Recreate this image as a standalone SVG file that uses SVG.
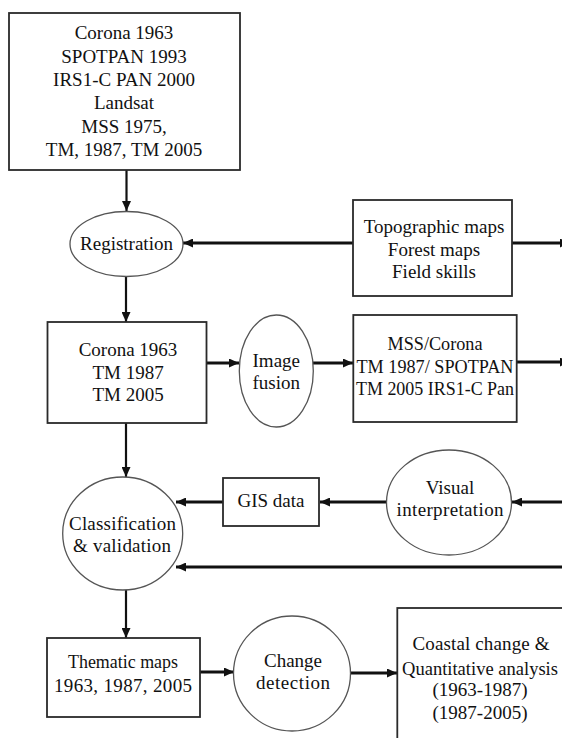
<svg xmlns="http://www.w3.org/2000/svg" width="562" height="738" viewBox="0 0 562 738">
<style>
.box{fill:#fff;stroke:#2a2a2a;stroke-width:1.8}
.ell{fill:#fff;stroke:#555;stroke-width:1.3}
text{font-family:"Liberation Serif","Times New Roman","DejaVu Serif",serif;font-size:19px;fill:#111;text-anchor:middle}
.h{stroke:#111;stroke-width:3;fill:none}
.v{stroke:#111;stroke-width:2.2;fill:none}
</style>
<defs>
<marker id="ah" markerUnits="userSpaceOnUse" markerWidth="11" markerHeight="9" refX="10" refY="4.5" orient="auto">
<path d="M0,0 L10,4.5 L0,9 z" fill="#111"/>
</marker>
</defs>
<rect width="562" height="738" fill="#fff"/>
<g id="connectors">
<line class="v" x1="126.5" y1="170" x2="126.5" y2="211" marker-end="url(#ah)"/>
<line class="h" x1="353" y1="243" x2="183" y2="243" marker-end="url(#ah)"/>
<line class="h" x1="512" y1="243" x2="570" y2="243" marker-end="url(#ah)"/>
<line class="v" x1="126" y1="276" x2="126" y2="322" marker-end="url(#ah)"/>
<line class="h" x1="207" y1="363" x2="239" y2="363" marker-end="url(#ah)"/>
<line class="h" x1="313" y1="363" x2="353" y2="363" marker-end="url(#ah)"/>
<line class="h" x1="517" y1="362" x2="570" y2="362" marker-end="url(#ah)"/>
<line class="v" x1="126" y1="423" x2="126" y2="477" marker-end="url(#ah)"/>
<line class="h" x1="562" y1="502" x2="512" y2="502" marker-end="url(#ah)"/>
<line class="h" x1="387" y1="502" x2="320" y2="502" marker-end="url(#ah)"/>
<line class="h" x1="223" y1="502" x2="176" y2="502" marker-end="url(#ah)"/>
<line class="h" x1="562" y1="567" x2="176" y2="567" marker-end="url(#ah)"/>
<line class="v" x1="126" y1="590" x2="126" y2="638" marker-end="url(#ah)"/>
<line class="h" x1="200" y1="672" x2="234" y2="672" marker-end="url(#ah)"/>
<line class="h" x1="351" y1="673" x2="397" y2="673" marker-end="url(#ah)"/>
</g>
<g id="sources">
<rect class="box" x="9" y="13" width="231" height="157"/>
<text x="124" y="39">Corona 1963</text>
<text x="124" y="62.5">SPOTPAN 1993</text>
<text x="124" y="86">IRS1-C PAN 2000</text>
<text x="124" y="109">Landsat</text>
<text x="124" y="132.5">MSS 1975,</text>
<text x="124" y="156">TM, 1987, TM 2005</text>
</g>
<g id="registration">
<ellipse class="ell" cx="126.5" cy="244" rx="56.5" ry="32.5"/>
<text x="126.5" y="249.5">Registration</text>
</g>
<g id="ancillary">
<rect class="box" x="353" y="200" width="159" height="96"/>
<text x="434" y="233">Topographic maps</text>
<text x="434" y="255.5">Forest maps</text>
<text x="434" y="278">Field skills</text>
</g>
<g id="registered">
<rect class="box" x="47.5" y="322" width="159" height="101"/>
<text x="128" y="356">Corona 1963</text>
<text x="128" y="378.5">TM 1987</text>
<text x="128" y="401">TM 2005</text>
</g>
<g id="fusion">
<ellipse class="ell" cx="276.3" cy="371" rx="37" ry="56"/>
<text x="276.3" y="367">Image</text>
<text x="276.3" y="389">fusion</text>
</g>
<g id="fused">
<rect class="box" x="353.3" y="315" width="163.4" height="107"/>
<text x="435" y="350" textLength="95" lengthAdjust="spacingAndGlyphs">MSS/Corona</text>
<text x="435" y="372.5" textLength="157" lengthAdjust="spacingAndGlyphs">TM 1987/ SPOTPAN</text>
<text x="435" y="395" textLength="158" lengthAdjust="spacingAndGlyphs">TM 2005 IRS1-C Pan</text>
</g>
<g id="visual">
<ellipse class="ell" cx="449" cy="502.5" rx="62.5" ry="52.5"/>
<text x="450" y="493.5">Visual</text>
<text x="450" y="515.5" textLength="107" lengthAdjust="spacing">interpretation</text>
</g>
<g id="gis">
<rect class="box" x="223" y="478" width="96" height="48"/>
<text x="271" y="507">GIS data</text>
</g>
<g id="classification">
<ellipse class="ell" cx="122.7" cy="533.5" rx="60" ry="56.5"/>
<text x="122.5" y="529.5" textLength="107" lengthAdjust="spacing">Classification</text>
<text x="122" y="552" textLength="98" lengthAdjust="spacing">&amp; validation</text>
</g>
<g id="thematic">
<rect class="box" x="47" y="638" width="153" height="79"/>
<text x="123" y="668" textLength="110" lengthAdjust="spacingAndGlyphs">Thematic maps</text>
<text x="123" y="692" textLength="138" lengthAdjust="spacing">1963, 1987, 2005</text>
</g>
<g id="change">
<ellipse class="ell" cx="292" cy="673.5" rx="58.5" ry="57.5"/>
<text x="293" y="667">Change</text>
<text x="293" y="689" textLength="74" lengthAdjust="spacing">detection</text>
</g>
<g id="coastal">
<rect class="box" x="397.3" y="608" width="200" height="160"/>
<text x="481" y="650" textLength="137" lengthAdjust="spacing">Coastal change &amp;</text>
<text x="480" y="675" textLength="156" lengthAdjust="spacingAndGlyphs">Quantitative analysis</text>
<text x="480" y="696">(1963-1987)</text>
<text x="480" y="718.5">(1987-2005)</text>
</g>
</svg>
